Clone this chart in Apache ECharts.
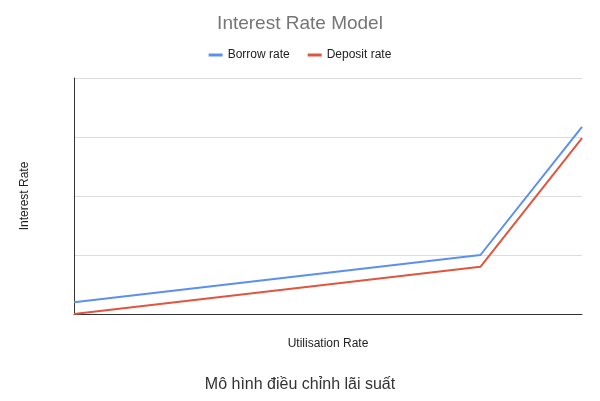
<!DOCTYPE html><html><head><meta charset="utf-8"><script src="https://cdn.jsdelivr.net/npm/echarts@6/dist/echarts.min.js"></script></head><body style="margin:0"><div id="c" style="width:600px;height:401px"></div><script>
const utilisation=[0,80,100];
const borrowRate=[0.2,1.0,3.17];
const depositRate=[0,0.8,2.98];
const c=echarts.init(document.getElementById('c'));
c.setOption({
 animation:false,
 title:[{text:'Interest Rate Model',left:'center',top:9,textStyle:{fontFamily:'Arial',fontSize:19,fontWeight:'normal',color:'#757575'}},
  {text:'Mô hình điều chỉnh lãi suất',left:'center',top:372,textStyle:{fontFamily:'Arial',fontSize:16,fontWeight:'normal',color:'#333'}}],
 legend:{top:44,left:'center',itemWidth:14,itemHeight:3,icon:'rect',itemGap:18,textStyle:{fontFamily:'Arial',fontSize:12,color:'#222'},data:['Borrow rate','Deposit rate']},
 grid:{left:74,right:18,top:78,bottom:87},
 xAxis:{type:'value',min:0,max:100,name:'Utilisation Rate',nameLocation:'middle',nameGap:24,nameTextStyle:{fontFamily:'Arial',fontSize:12,color:'#222'},
  axisLine:{lineStyle:{color:'#333'}},axisTick:{show:false},axisLabel:{show:false},splitLine:{show:false}},
 yAxis:{type:'value',min:0,max:4,interval:1,name:'Interest Rate',nameLocation:'middle',nameGap:43,nameTextStyle:{fontFamily:'Arial',fontSize:12,color:'#222'},
  axisLine:{show:true,lineStyle:{color:'#333'}},axisTick:{show:false},axisLabel:{show:false},splitLine:{lineStyle:{color:'#dcdcdc'}}},
 series:[
  {name:'Borrow rate',type:'line',data:utilisation.map((x,i)=>[x,borrowRate[i]]),symbol:'none',lineStyle:{width:2,color:'#5b8ff0'},itemStyle:{color:'#5b8ff0'}},
  {name:'Deposit rate',type:'line',data:utilisation.map((x,i)=>[x,depositRate[i]]),symbol:'none',lineStyle:{width:2,color:'#e0553f'},itemStyle:{color:'#e0553f'}}
 ]
});
</script></body></html>
